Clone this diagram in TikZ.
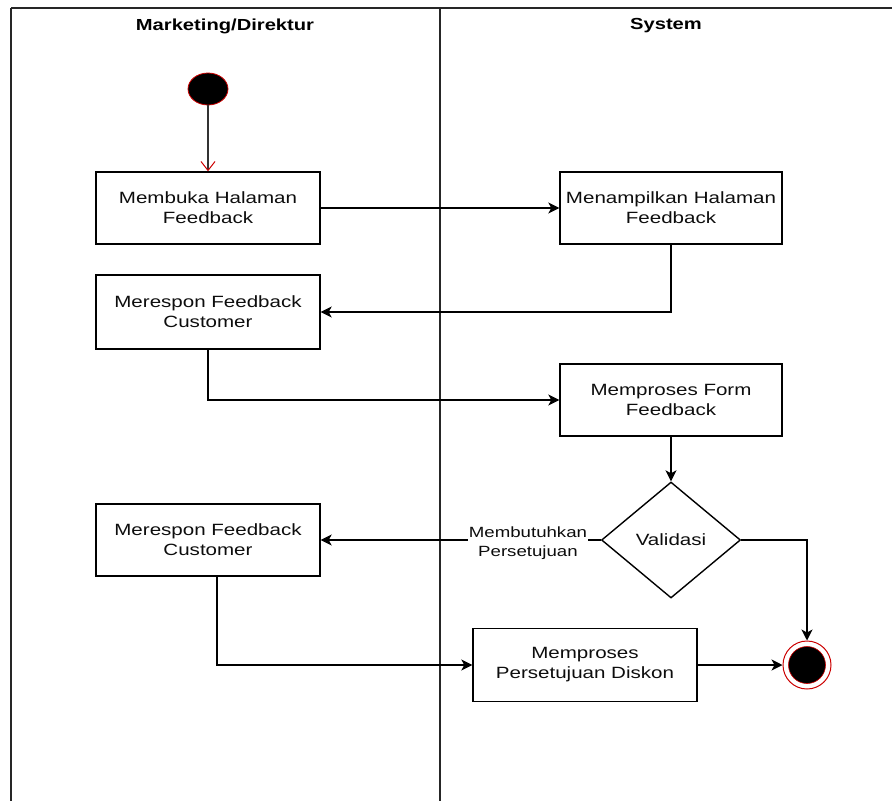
\documentclass[tikz,border=0pt]{standalone}
\usepackage{fontspec}
\setmainfont{Liberation Sans}[FakeStretch=1.26]
\usetikzlibrary{arrows.meta,shapes.geometric}
\definecolor{stateRed}{HTML}{CC0000}
\tikzset{
  lane/.style={draw=black!85, line width=1.3pt},
  act/.style={draw=black, line width=1.4pt, fill=white, rectangle,
    minimum width=224pt, minimum height=72pt, inner sep=0pt,
    align=center, font=\fontsize{16.3}{20}\selectfont, text=black!95},
  flow/.style={draw=black, line width=1.1pt,
    -{Stealth[length=11pt,width=11pt,inset=3pt]}},
  hdr/.style={font=\fontsize{16}{20}\selectfont\bfseries, text=black},
  guard/.style={fill=white, inner sep=1pt, align=center,
    font=\fontsize{14.8}{19}\selectfont, text=black!95},
}
\begin{document}
\begin{tikzpicture}[x=1pt,y=-1pt]
\useasboundingbox (0,0) rectangle (892,801);
% swimlane frame
\draw[lane, line width=2pt] (11,8) -- (892,8);
\draw[lane] (11,8) -- (11,801);
\draw[lane] (440,8) -- (440,801);
\node[hdr] (h1) at (225,26) {Marketing/Direktur};
\node[hdr] (h2) at (666,26) {System};

% start state
\node[ellipse, fill=black, draw=stateRed, line width=0.8pt,
      minimum width=40pt, minimum height=32pt, inner sep=0pt] (start) at (208,89) {};

% activities
\node[act] (a1) at (208,208) {Membuka Halaman\\Feedback};
\node[act, minimum width=222pt] (a2) at (671,208) {Menampilkan Halaman\\Feedback};
\node[act, minimum height=74pt] (a3) at (208,312) {Merespon Feedback\\Customer};
\node[act, minimum width=222pt] (a4) at (671,400) {Memproses Form\\Feedback};
\node[act] (a5) at (208,540) {Merespon Feedback\\Customer};
\node[act, minimum height=73pt] (a6) at (585,665) {Memproses\\Persetujuan Diskon};

% decision
\node[diamond, draw=black, line width=1.4pt, fill=white, inner sep=0pt,
      minimum width=139pt, minimum height=116pt,
      font=\fontsize{16.3}{20}\selectfont, text=black!95] (val) at (671,540) {Validasi};

% final state
\node[circle, draw=stateRed, line width=1pt, fill=white,
      minimum size=48pt, inner sep=0pt] (end) at (807,665) {};
\node[circle, fill=black, draw=stateRed, line width=0.6pt,
      minimum size=37pt, inner sep=0pt] (endin) at (end.center) {};

% flows
\draw[draw=black!80, line width=1.1pt,
      -{Straight Barb[color=stateRed,length=9pt,width=14pt,line width=1pt]}]
  (start) -- (a1.north);
\draw[flow] (a1.east) -- (a2.west);
\draw[flow] (a2.south) |- (a3.east);
\draw[flow] (a3.south) |- (a4.west);
\draw[flow] (a4.south) -- (val.north);
\draw[flow] (val.west) -- (a5.east)
  node[guard, pos=0.26, yshift=-3pt] (g) {Membutuhkan\\Persetujuan};
\draw[flow] (val.east) -| (end.north);
\draw[flow] ([xshift=9pt]a5.south) |- (a6.west);
\draw[flow] (a6.east) -- (end.west);
\end{tikzpicture}
\end{document}
